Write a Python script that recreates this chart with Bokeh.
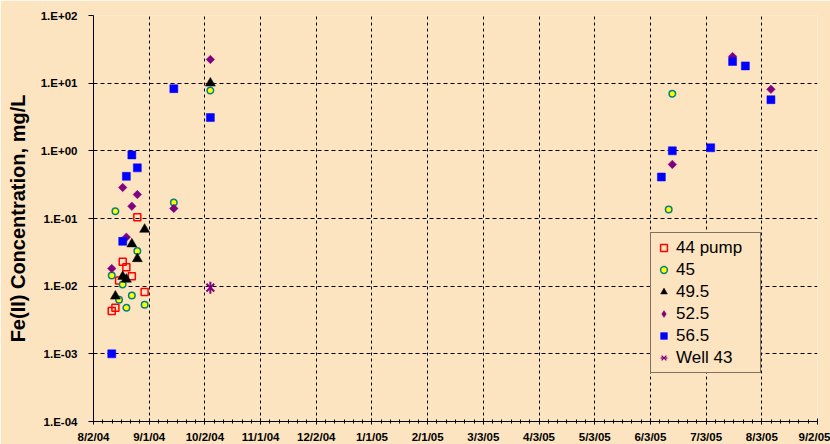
import math
import pandas as pd
from bokeh.plotting import figure
from bokeh.models import (FixedTicker, CustomJSTickFormatter, ColumnDataSource,
                          Legend, LegendItem)
from bokeh.embed import file_html
from bokeh.resources import INLINE

# ---- sampling data: Fe(II) concentration (mg/L) by well depth ----
pump44_dates = ["2004-08-12", "2004-08-14", "2004-08-16", "2004-08-18",
                "2004-08-20", "2004-08-23", "2004-08-26", "2004-08-30"]
pump44_vals = [0.0043, 0.0048, 0.0121, 0.023, 0.019, 0.014, 0.104, 0.0082]

d45_dates = ["2004-08-12", "2004-08-14", "2004-08-16", "2004-08-18",
             "2004-08-20", "2004-08-23", "2004-08-26", "2004-08-30",
             "2004-09-15", "2004-10-05", "2005-06-13", "2005-06-15"]
d45_vals = [0.0144, 0.128, 0.0063, 0.0106, 0.0048, 0.0073, 0.033, 0.0053,
            0.172, 7.8, 0.136, 7.0]

d495_dates = ["2004-08-14", "2004-08-18", "2004-08-20", "2004-08-23",
              "2004-08-26", "2004-08-30", "2004-10-05"]
d495_vals = [0.0071, 0.0139, 0.0126, 0.042, 0.0254, 0.069, 10.0]

d525_dates = ["2004-08-12", "2004-08-18", "2004-08-20", "2004-08-23",
              "2004-08-26", "2004-09-15", "2004-10-05", "2005-06-15",
              "2005-07-18", "2005-08-08"]
d525_vals = [0.0182, 0.287, 0.053, 0.152, 0.226, 0.141, 22.4, 0.63, 24.8, 8.1]

d565_dates = ["2004-08-12", "2004-08-18", "2004-08-20", "2004-08-23",
              "2004-08-26", "2004-09-15", "2004-10-05", "2005-06-09",
              "2005-06-15", "2005-07-06", "2005-07-18", "2005-07-25",
              "2005-08-08"]
d565_vals = [0.001, 0.046, 0.42, 0.87, 0.56, 8.3, 3.1, 0.41, 1.0, 1.11,
             20.9, 18.0, 5.7]

well43_dates = ["2004-10-05"]
well43_vals = [0.0095]

y_tick_values = [1e-4, 1e-3, 1e-2, 1e-1, 1e0, 1e1, 1e2]
axis_start = "2004-08-02"
major_step_days = 30.5
n_major = 13
minor_per_major = 6

BG = "#FCE4C0"
FONT = "Liberation Sans"
PURPLE = "#800080"

DAY_MS = 86400000.0
start_ms = pd.Timestamp(axis_start).value / 1e6
major_ticks = [start_ms + k * major_step_days * DAY_MS for k in range(n_major + 1)]
minor_ticks = [start_ms + (k / minor_per_major) * major_step_days * DAY_MS
               for k in range(n_major * minor_per_major + 1)]


def src(dates, vals):
    return ColumnDataSource(dict(x=pd.to_datetime(dates), y=vals))


p = figure(frame_width=724, frame_height=406,
           x_axis_type="datetime", y_axis_type="log",
           x_range=(major_ticks[0], major_ticks[-1]), y_range=(1e-4, 1e2),
           output_backend="svg", toolbar_location=None,
           background_fill_color=BG, border_fill_color=BG,
           min_border_left=93, min_border_right=13,
           min_border_top=15, min_border_bottom=23,
           outline_line_color=None)

# axes
p.xaxis.ticker = FixedTicker(ticks=major_ticks, minor_ticks=minor_ticks)
p.xaxis.formatter = CustomJSTickFormatter(code="""
    const d = new Date(tick);
    return (d.getUTCMonth() + 1) + "/" + d.getUTCDate() + "/" +
           String(d.getUTCFullYear()).slice(2);
""")
p.yaxis.ticker = FixedTicker(ticks=y_tick_values, minor_ticks=[])
p.yaxis.formatter = CustomJSTickFormatter(code="""
    const e = Math.round(Math.log10(tick));
    const a = Math.abs(e);
    return "1.E" + (e < 0 ? "-" : "+") + (a < 10 ? "0" + a : "" + a);
""")

for ax in (p.xaxis[0], p.yaxis[0]):
    ax.axis_line_color = "black"
    ax.major_tick_line_color = "black"
    ax.minor_tick_line_color = "black"
    ax.major_label_text_font = FONT
    ax.major_label_text_font_style = "bold"
    ax.major_label_text_font_size = "11.5px"
    ax.major_label_text_color = "black"

p.xaxis.major_tick_in = 3
p.xaxis.major_tick_out = 3
p.xaxis.minor_tick_in = 2
p.xaxis.minor_tick_out = 2
p.xaxis.major_label_standoff = 6

p.yaxis.major_tick_in = 0
p.yaxis.major_tick_out = 5
p.yaxis.minor_tick_line_color = None
p.yaxis.major_label_standoff = 11
p.yaxis.axis_label = "Fe(II) Concentration, mg/L"
p.yaxis.axis_label_text_font = FONT
p.yaxis.axis_label_text_font_style = "bold"
p.yaxis.axis_label_text_font_size = "20px"
p.yaxis.axis_label_text_color = "black"
p.yaxis.axis_label_standoff = 9

# dashed grid
p.xgrid.grid_line_color = "black"
p.xgrid.grid_line_dash = "3 3"
p.xgrid.grid_line_width = 1
p.ygrid.grid_line_color = "black"
p.ygrid.grid_line_dash = "4 3"
p.ygrid.grid_line_width = 1

# series
r44 = p.scatter("x", "y", source=src(pump44_dates, pump44_vals), marker="square",
                size=7, fill_color=None, line_color="#FF0000", line_width=1.5)
r45 = p.scatter("x", "y", source=src(d45_dates, d45_vals), marker="circle",
                size=6.5, fill_color="#FFFF00", line_color="#008080", line_width=1.5)
r495 = p.scatter("x", "y", source=src(d495_dates, d495_vals), marker="triangle",
                 size=10, fill_color="black", line_color="black", line_width=0.5)
r525 = p.scatter("x", "y", source=src(d525_dates, d525_vals), marker="square",
                 angle=math.pi / 4, size=6, fill_color=PURPLE, line_color=PURPLE,
                 line_width=0.5)
r565 = p.scatter("x", "y", source=src(d565_dates, d565_vals), marker="square",
                 size=8, fill_color="#0000FF", line_color="#0000FF", line_width=0.5)
w43 = src(well43_dates, well43_vals)
r43a = p.scatter("x", "y", source=w43, marker="x", size=11,
                 line_color=PURPLE, line_width=2)
r43b = p.scatter("x", "y", source=w43, marker="dash", angle=math.pi / 2, size=12,
                 line_color=PURPLE, line_width=2)

# key swatches for the rotated-square and star markers (placed below the
# visible y range so they only show in the legend)
key_src = ColumnDataSource(dict(x=[start_ms], y=[1e-7]))
k525 = p.scatter("x", "y", source=key_src, marker="diamond", fill_color=PURPLE,
                 line_color=PURPLE, line_width=0.5)
k43a = p.scatter("x", "y", source=key_src, marker="x", line_color=PURPLE,
                 line_width=1.3)
k43b = p.scatter("x", "y", source=key_src, marker="dash", angle=math.pi / 2,
                 line_color=PURPLE, line_width=1.3)

legend = Legend(items=[
    LegendItem(label="44 pump", renderers=[r44]),
    LegendItem(label="45", renderers=[r45]),
    LegendItem(label="49.5", renderers=[r495]),
    LegendItem(label="52.5", renderers=[k525]),
    LegendItem(label="56.5", renderers=[r565]),
    LegendItem(label="Well 43", renderers=[k43a, k43b]),
])
legend.location = (557, 48)
legend.background_fill_color = BG
legend.background_fill_alpha = 1.0
legend.border_line_color = "black"
legend.border_line_width = 1
legend.label_text_font = FONT
legend.label_text_font_size = "17px"
legend.label_text_color = "black"
legend.padding = 4
legend.spacing = 1
legend.glyph_height = 21
legend.label_height = 21
legend.glyph_width = 17
legend.label_standoff = 4
legend.label_width = 80
legend.margin = 0
p.add_layout(legend)

open("out.html", "w").write(file_html(p, INLINE))
